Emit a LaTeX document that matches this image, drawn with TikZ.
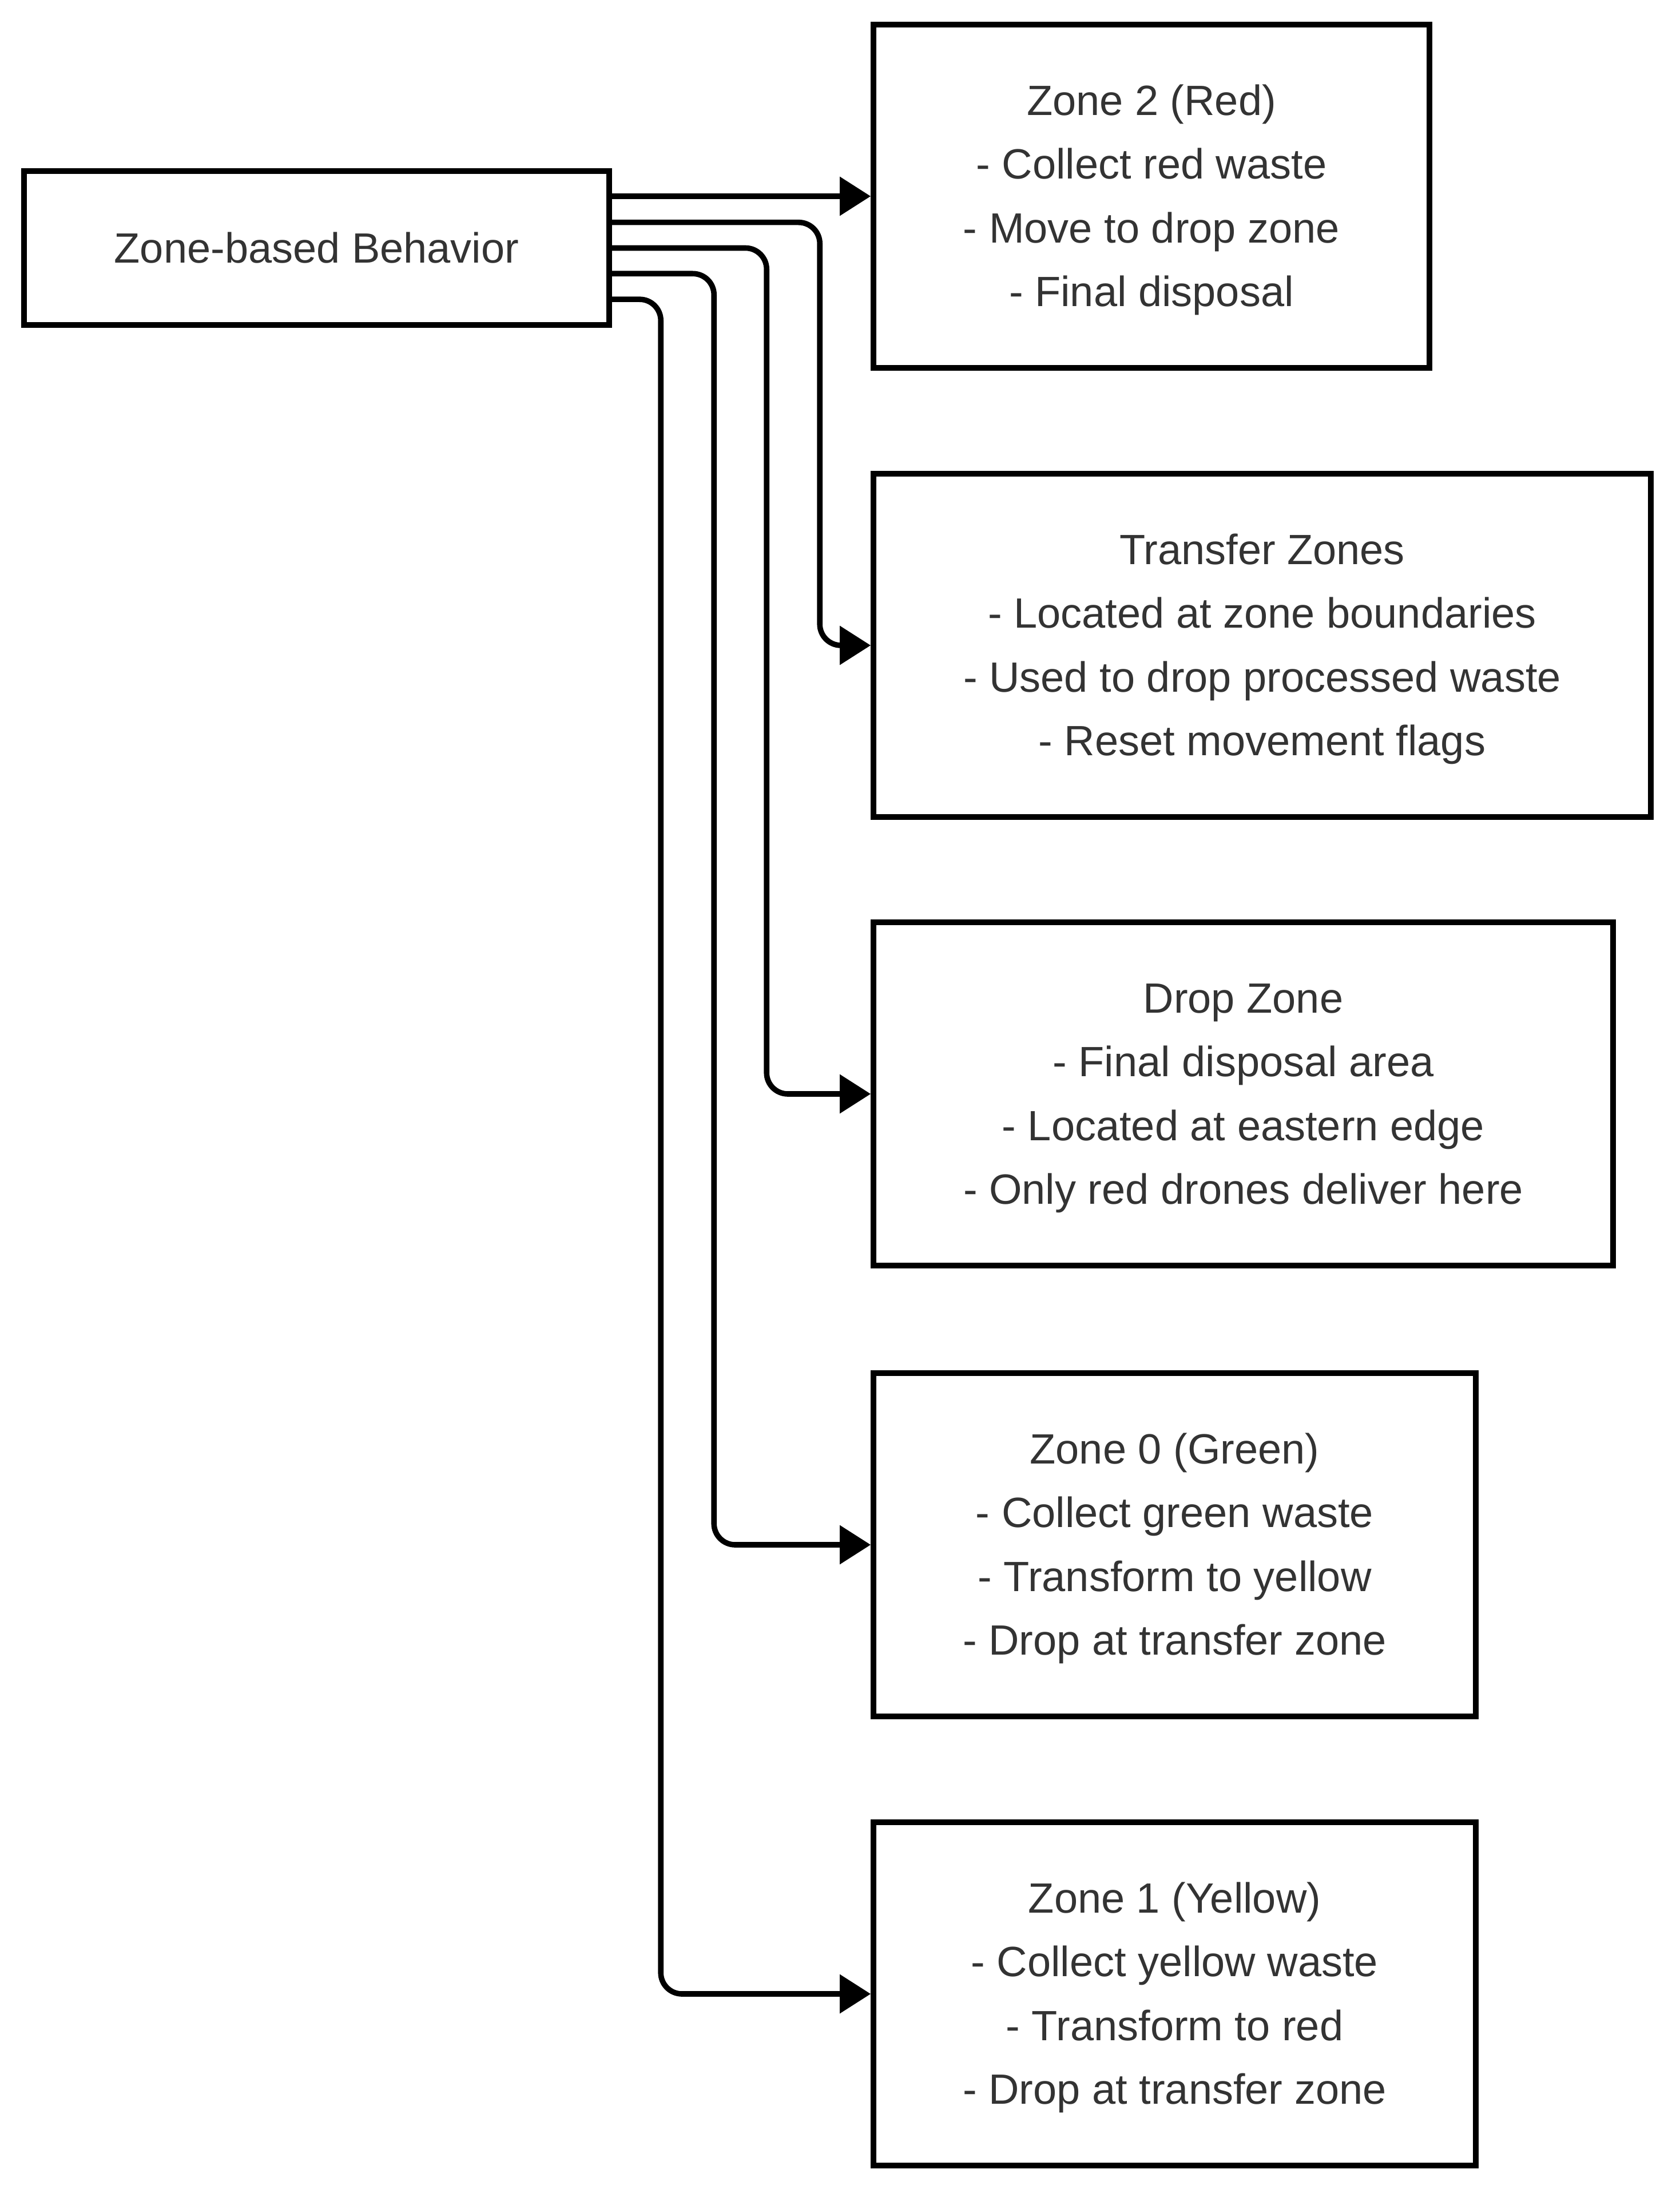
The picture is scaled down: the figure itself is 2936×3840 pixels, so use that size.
\documentclass[tikz,border=0pt]{standalone}
\usepackage{fontspec}
\setmainfont{Liberation Sans}
\usetikzlibrary{arrows.meta,calc}
\definecolor{txt}{HTML}{333333}
\newcommand\zstrut{\rule{0pt}{16.6pt}}
\begin{document}
\begin{tikzpicture}[x=0.25pt,y=-0.25pt,
  box/.style={draw=black, line width=2.4pt, rectangle, inner sep=0pt,
    minimum height=150pt, align=center, text=txt,
    font=\fontsize{18.5pt}{27.9pt}\selectfont},
  conn/.style={draw=black, line width=2.4pt, rounded corners=9.25pt,
    -{Triangle[length=13.5pt,width=16.5pt]}}]
\useasboundingbox (0,0) rectangle (2936,3840);

\node[box, minimum width=255.75pt, minimum height=67.25pt] (src) at (553.5,433.5) {Zone-based Behavior};

\node[box, minimum width=243pt] (z2) at (2013,343) {\zstrut Zone 2 (Red)\\- Collect red waste\\- Move to drop zone\\- Final disposal};
\node[box, minimum width=339.75pt] (tz) at (2206.5,1128) {\zstrut Transfer Zones\\- Located at zone boundaries\\- Used to drop processed waste\\- Reset movement flags};
\node[box, minimum width=323.25pt] (dz) at (2173.5,1912) {\zstrut Drop Zone\\- Final disposal area\\- Located at eastern edge\\- Only red drones deliver here};
\node[box, minimum width=263.25pt] (z0) at (2053.5,2700) {\zstrut Zone 0 (Green)\\- Collect green waste\\- Transform to yellow\\- Drop at transfer zone};
\node[box, minimum width=263.25pt] (z1) at (2053.5,3485) {\zstrut Zone 1 (Yellow)\\- Collect yellow waste\\- Transform to red\\- Drop at transfer zone};

\coordinate (s2) at ($(src.east)+(0,-44.8)$);
\coordinate (s3) at (src.east);
\coordinate (s4) at ($(src.east)+(0,44.8)$);
\coordinate (s5) at ($(src.east)+(0,89.7)$);

\draw[conn] (src.east |- z2.west) -- (z2.west);
\draw[conn] (s2) -| ($(tz.west)+(-89,0)$) -- (tz.west);
\draw[conn] (s3) -| ($(dz.west)+(-182,0)$) -- (dz.west);
\draw[conn] (s4) -| ($(z0.west)+(-274,0)$) -- (z0.west);
\draw[conn] (s5) -| ($(z1.west)+(-367,0)$) -- (z1.west);
\end{tikzpicture}
\end{document}
